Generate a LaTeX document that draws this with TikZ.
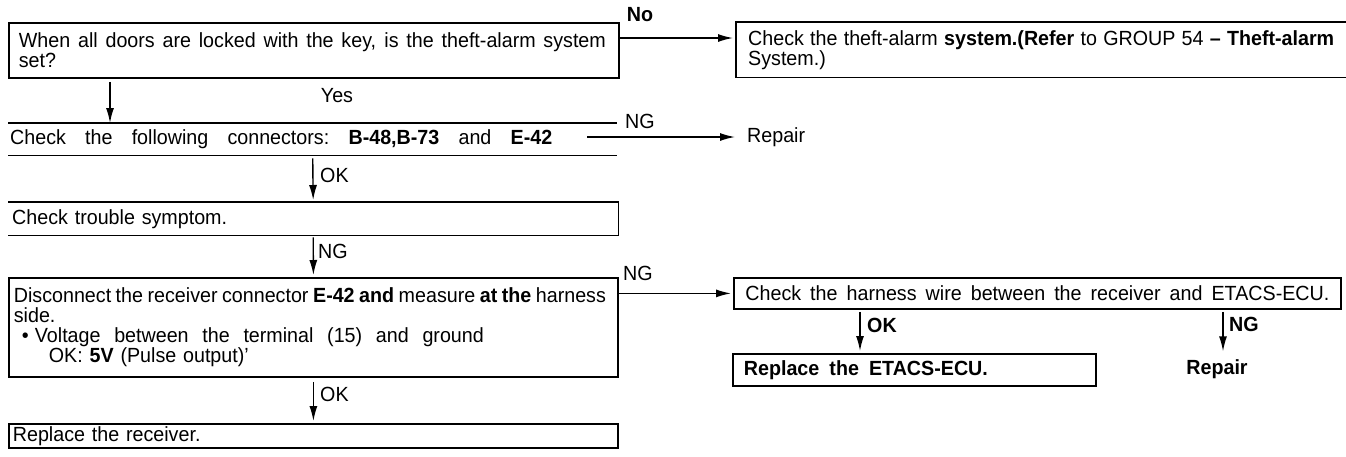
\documentclass[tikz,border=0pt]{standalone}
\usepackage{fontspec}
\setmainfont{Liberation Sans}[FakeStretch=0.96]
\usetikzlibrary{arrows.meta}
\newcommand\jline[2]{\makebox[#1][s]{\spaceskip=0.278em plus 1fil minus 0.2em\relax\xspaceskip=\spaceskip #2}}
\begin{document}
\begin{tikzpicture}[x=1pt,y=-1pt,
  every node/.style={font=\fontsize{20.5}{20}\selectfont, inner sep=0pt},
  boxn/.style={anchor=north west, align=left},
  frame/.style={draw, line width=1.8pt},
  edge/.style={line width=1.8pt},
  arr/.style={-{Latex[length=15pt,width=8pt]}, line width=1.4pt},
  lbl/.style={text height=15pt, text depth=4pt},
  bold/.style={font=\fontsize{20.5}{20}\selectfont\bfseries}]
\useasboundingbox (0,0) rectangle (1346,456);

% top question
\node[boxn, frame, minimum width=610pt, minimum height=55pt, text width=590pt, inner xsep=10pt] (b1) at (8,22)
  {\jline{587pt}{When all doors are locked with the key, is the theft-alarm system}\\set?};
\node[boxn, minimum width=607pt, minimum height=55pt, text width=586pt, inner xsep=12pt] (b2) at (736,22)
  {\jline{586pt}{Check the theft-alarm \textbf{system.(Refer} to GROUP 54 \textbf{-- Theft-alarm}}\\System.)};
\draw[edge] (b2.north east) -- (b2.north west) -- (b2.south west) -- (b2.south east);
\coordinate (noy) at (0,38);
\draw[arr, shorten >=3pt] (b1.east |- noy) -- (b2.west |- noy);
\node[lbl, bold] (no) at (640,16) {No};

% connectors
\node[lbl] (yes) at (337,97) {Yes};
\node[boxn, minimum width=609pt, minimum height=32pt, text width=605pt, inner xsep=2pt] (c1) at (8,123)
  {\jline{542pt}{Check the following connectors: \textbf{B-48,B-73} and \textbf{E-42}}};
\draw[edge] (c1.north west) -- (c1.north east);
\draw[edge] (c1.south west) -- (c1.south east);
\coordinate (yesx) at (110,0);
\draw[arr, shorten <=3pt] (b1.south -| yesx) -- (c1.north -| yesx);
\node[lbl, anchor=west, inner xsep=12pt] (rep1) at (735,137) {Repair};
\coordinate (c1out) at (587,137);
\draw[arr] (c1out) -- (rep1.west);
\node[lbl] (ng1) at (640,123) {NG};

% trouble symptom
\node[boxn, minimum width=610pt, minimum height=33pt, text width=602pt, inner xsep=4pt] (tb) at (8,202)
  {Check trouble symptom.};
\draw[edge] (tb.north west) -- (tb.north east) -- (tb.south east) -- (tb.south west);
\draw[arr, shorten <=3pt, shorten >=2pt] (c1.south) -- (tb.north);
\node[lbl, anchor=west] (ok1) at (320,177) {OK};

% disconnect
\node[boxn, frame, minimum width=609pt, minimum height=99pt, text width=599pt, inner xsep=5pt] (db) at (8,277)
  {\jline{592pt}{Disconnect the receiver connector \textbf{E-42 and} measure \textbf{at the} harness}\\
   side.\\
   \hspace*{8pt}\makebox[13pt][l]{\textbullet}\jline{449pt}{Voltage between the terminal (15) and ground}\\
   \hspace*{35pt}OK: \textbf{5V} (Pulse output)'};
\draw[arr, shorten <=2pt, shorten >=2pt] (tb.south) -- (db.north);
\node[lbl, anchor=west] (ng2) at (318,253) {NG};

% receiver
\node[boxn, frame, minimum width=609pt, minimum height=24pt, text width=601pt, inner xsep=4pt] (rb) at (8,423)
  {Replace the receiver.};
\draw[arr, shorten <=4pt, shorten >=2pt] (db.south) -- (rb.north);
\node[lbl, anchor=west] (ok2) at (320,396) {OK};

% harness
\node[boxn, frame, minimum width=607pt, minimum height=31pt, text width=584pt, inner xsep=11pt] (hb) at (733,277)
  {\jline{584pt}{Check the harness wire between the receiver and ETACS-ECU.}};
\draw[arr, shorten >=2pt] (db.east |- hb.west) -- (hb.west);
\node[lbl] (ng3) at (638,275) {NG};

% ETACS
\node[boxn, frame, bold, minimum width=363pt, minimum height=32pt, text width=341pt, inner xsep=11pt] (eb) at (732,353)
  {\jline{244pt}{Replace the ETACS-ECU.}};
\coordinate (okx) at (860,0);
\draw[arr, shorten <=2pt, shorten >=2pt] (hb.south -| okx) -- (eb.north -| okx);
\node[lbl, bold, anchor=west] (ok3) at (867,327) {OK};

\node[lbl, bold] (rep2) at (1217,369) {Repair};
\coordinate (ngx) at (1223,0);
\draw[arr, shorten <=2pt, shorten >=8pt] (hb.south -| ngx) -- (rep2.north -| ngx);
\node[lbl, bold, anchor=west] (ng4) at (1229,326) {NG};
\end{tikzpicture}
\end{document}
